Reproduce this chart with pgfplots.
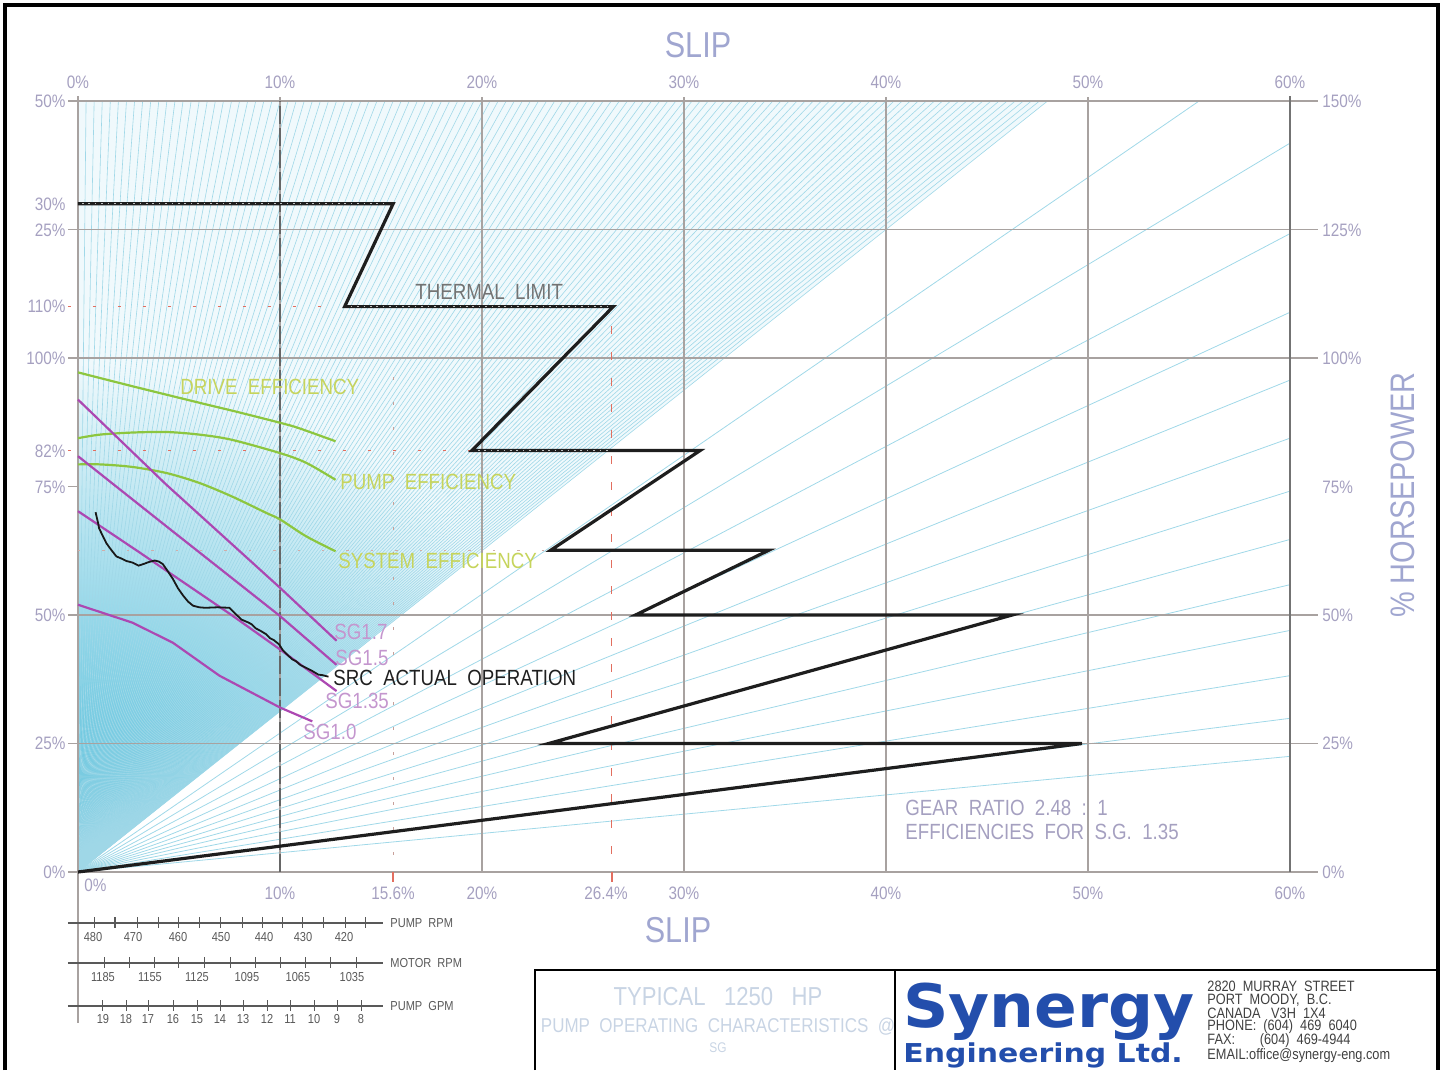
\documentclass[border=0pt]{standalone}
\usepackage{pgfplots}
\pgfplotsset{compat=1.18}
\usepackage{fontspec}
\setmainfont{Liberation Sans}[FakeStretch=0.85]
\newfontfamily\logofont{DejaVu Sans}[FakeStretch=1.05]
\newfontfamily\engfont{DejaVu Sans}[FakeStretch=1.15]
\definecolor{lab}{RGB}{165,160,192}
\definecolor{slipc}{RGB}{160,166,208}
\definecolor{gridc}{RGB}{168,162,160}
\definecolor{fanc}{RGB}{160,216,232}
\definecolor{cyanD}{RGB}{60,182,214}
\definecolor{densebase}{RGB}{240,249,252}
\definecolor{effg}{RGB}{140,198,63}
\definecolor{effl}{RGB}{198,212,92}
\definecolor{sgc}{RGB}{172,72,178}
\definecolor{sgl}{RGB}{196,150,206}
\definecolor{redd}{RGB}{226,110,95}
\definecolor{logob}{RGB}{35,78,172}
\definecolor{titlel}{RGB}{200,212,228}
\definecolor{thermal}{RGB}{30,30,30}
\begin{document}
\begin{tikzpicture}
\tikzset{px/.style={x=0.5pt,y=-0.5pt,shift={(-39pt,436pt)}},
  fanline/.style={fanc, line width=0.3pt},
  gridl/.style={gridc, line width=0.75pt},
  lbl/.style={font=\fontsize{9}{9}\selectfont, text=lab, inner sep=0pt},
  inl/.style={font=\fontsize{11}{11}\selectfont, inner sep=0pt, anchor=west},
  sc/.style={font=\fontsize{6.5}{6.5}\selectfont, text=black!65, inner sep=0pt}}
% ---------- background (pixel frame) ----------
\begin{scope}[px]
\useasboundingbox (0,0) rectangle (1445,1067);
\fill[densebase] (78,872) -- (78,101) -- (1048,101) -- cycle;
\begin{scope}
\clip (78,872) -- (78,101) -- (1048,101) -- cycle;
\shade[inner color=cyanD, outer color=densebase] (78,872) circle[radius=255pt];
\end{scope}
\end{scope}
% ---------- axis ----------
\begin{axis}[at={(0pt,0pt)}, anchor=south west, scale only axis,
  width=606pt, height=385.5pt, xmin=0, xmax=60, ymin=0, ymax=150,
  hide axis, clip=false]
% fan of lines from the origin
\pgfplotsinvokeforeach{1,...,120}{\draw[fanline] (axis cs:0,0) -- (axis cs:{#1*0.4},150);}
\pgfplotsinvokeforeach{141.8,124.2,108.9,95.7,84.4,74.1,64.7,55.9,47.0,38.2,29.9,22.5}{\draw[fanline, line width=0.4pt] (axis cs:0,0) -- (axis cs:60,#1);}
\draw[fanline, line width=0.4pt] (axis cs:0,0) -- (axis cs:55.5,150);
% grid
\pgfplotsinvokeforeach{150,125,100,50,25,0}{\draw[gridl] (axis cs:-0.5,#1) -- (axis cs:61.4,#1);}
\draw[gridl] (axis cs:-0.5,75) -- (axis cs:0,75);
\pgfplotsinvokeforeach{10,20,30,40,50}{\draw[gridl] (axis cs:#1,0) -- (axis cs:#1,150.8);}
\draw[gridl] (axis cs:0,-29.4) -- (axis cs:0,151);
\draw[gridl, draw=black!55] (axis cs:60,0) -- (axis cs:60,151);
\draw[black!60, line width=0.6pt, dash pattern=on 9pt off 2pt] (axis cs:10,0) -- (axis cs:10,150);
% reference dotted lines
\draw[redd, line width=0.7pt, dash pattern=on 1.5pt off 11pt] (axis cs:-0.5,110) -- (axis cs:26.4,110);
\draw[redd, line width=0.7pt, dash pattern=on 1.5pt off 11pt] (axis cs:-0.5,82) -- (axis cs:19.5,82);
\draw[redd!50!gray!60, line width=0.6pt, dash pattern=on 1.2pt off 11pt] (axis cs:0,62.6) -- (axis cs:23.4,62.6);
\draw[redd!50!gray!70, line width=0.6pt, dash pattern=on 1.5pt off 11pt] (axis cs:15.6,-1.5) -- (axis cs:15.6,97.7);
\draw[redd, line width=0.7pt, dash pattern=on 4pt off 9pt] (axis cs:26.4,-1.5) -- (axis cs:26.4,110);
% efficiency curves
\addplot[effg, line width=1.1pt, smooth] coordinates {(0,97.2) (2.7,94.5) (6,91.3) (8,89.4) (10,87.4) (10.9,86.4) (12.75,83.8)};
\addplot[effg, line width=1.1pt, smooth] coordinates {(0,84.4) (1.1,85.1) (2.7,85.5) (4.4,85.6) (6,85.1) (7.6,84.1) (10,81.5) (11.3,79.6) (12.75,76.3)};
\addplot[effg, line width=1.1pt, smooth] coordinates {(0,79.3) (1.1,79.3) (2.7,78.8) (4.4,77.6) (6,75.7) (7.6,73.1) (9.3,69.9) (10,68.6) (11.3,65.3) (12.75,62.4)};
% specific gravity curves
\addplot[sgc, line width=1.1pt] coordinates {(0,91.9) (4.36,75.4) (10,55.3) (12.8,45.0)};
\addplot[sgc, line width=1.1pt] coordinates {(0,80.9) (4.36,67.3) (10,49.8) (12.8,40.3)};
\addplot[sgc, line width=1.1pt] coordinates {(0,70.2) (3,62.3) (7.6,50) (10,43.3) (12.8,35.2)};
\addplot[sgc, line width=1.1pt] coordinates {(0,52.0) (2.7,48.5) (4.7,44.6) (7,38.2) (10,32.0) (11.6,29.3)};
% SRC actual operation
\addplot[black!90, line width=0.9pt] coordinates {(0.87,70) (1.0,67.8) (1.04,66.9) (1.2,65.6) (1.4,64) (1.6,62.9) (1.9,61.4) (2.2,60.9) (2.4,60.5) (2.7,60.2) (3.0,59.6) (3.3,60.0) (3.5,60.3) (3.8,60.6) (4.0,60.4) (4.2,59.9) (4.45,58.5) (4.7,57) (4.95,55.2) (5.2,53.8) (5.45,52.6) (5.7,51.8) (6.0,51.5) (6.3,51.4) (6.9,51.5) (7.5,51.4) (7.8,50.2) (8.1,49.1) (8.4,48.6) (8.6,48.2) (8.8,47.4) (9.0,47) (9.3,46.3) (9.5,45.5) (9.7,45.1) (9.95,44.3) (10.15,43.1) (10.3,42.5) (10.6,41.4) (10.8,41.0) (11.0,40.3) (11.3,39.7) (11.6,39.1) (11.9,38.4) (12.1,38.3) (12.4,38.0)};
% thermal limit
\addplot[thermal, line width=1.6pt] coordinates {(0,130) (15.6,130) (13.2,110) (26.5,110) (19.5,82) (30.8,82) (23.4,62.6) (34.2,62.6) (27.6,50) (46.25,50) (23.3,25) (49.7,25) (0,0)};
\draw[white!75!black, line width=0.45pt, dash pattern=on 0.8pt off 2.4pt] (axis cs:0.2,130) -- (axis cs:15.3,130);
\draw[white!75!black, line width=0.45pt, dash pattern=on 0.8pt off 2.4pt] (axis cs:13.5,110) -- (axis cs:26.2,110);
\draw[white!75!black, line width=0.45pt, dash pattern=on 0.8pt off 2.4pt] (axis cs:19.8,82) -- (axis cs:26.4,82);
\end{axis}
% ---------- text and drawing decorations ----------
\begin{scope}[px]
% frame
\draw[black, line width=1.6pt] (5,1070) -- (5,5) -- (1438,5) -- (1438,1070);
% titles
\node[font=\fontsize{18}{18}\selectfont, text=slipc, inner sep=0pt] at (698,45) {SLIP};
\node[font=\fontsize{18}{18}\selectfont, text=slipc, inner sep=0pt] at (678,930) {SLIP};
\node[font=\fontsize{17}{17}\selectfont, text=slipc, inner sep=0pt, rotate=90] at (1403,495) {\% HORSEPOWER};
% top tick labels
\foreach \x/\t in {78/0\%,280/10\%,482/20\%,684/30\%,886/40\%,1088/50\%,1290/60\%}{\node[lbl] at (\x,82) {\t};}
% bottom tick labels
\node[lbl, anchor=west] at (84,885) {0\%};
\foreach \x/\t in {280/10\%,393/15.6\%,482/20\%,606/26.4\%,684/30\%,886/40\%,1088/50\%,1290/60\%}{\node[lbl] at (\x,893) {\t};}
% left labels
\foreach \y/\t in {101/50\%,204/30\%,230/25\%,306/110\%,358/100\%,451/82\%,487/75\%,615/50\%,743/25\%,872/0\%}{\node[lbl, anchor=east] at (66,\y) {\t};}
% right labels
\foreach \y/\t in {101/150\%,230/125\%,358/100\%,487/75\%,615/50\%,743/25\%,872/0\%}{\node[lbl, anchor=west] at (1322,\y) {\t};}
% red tick marks on the bottom axis
\draw[redd, line width=0.7pt] (393,872) -- (393,882);
\draw[redd, line width=0.7pt] (612,872) -- (612,882);
% in-plot labels
\node[inl, text=black!55] at (415,292) {THERMAL\ \ LIMIT};
\node[inl, text=effl] at (180,387) {DRIVE\ \ EFFICIENCY};
\node[inl, text=effl] at (340,482) {PUMP\ \ EFFICIENCY};
\node[inl, text=effl] at (338,561) {SYSTEM\ \ EFFICIENCY};
\node[inl, text=sgl] at (334,632) {SG1.7};
\node[inl, text=sgl] at (335,658) {SG1.5};
\node[inl, text=black!88] at (333,678) {SRC\ \ ACTUAL\ \ OPERATION};
\node[inl, text=sgl] at (325,701) {SG1.35};
\node[inl, text=sgl] at (303,732) {SG1.0};
\node[inl, text=lab] at (905,808) {GEAR\ \ RATIO\ \ 2.48\ \ :\ \ 1};
\node[inl, text=lab] at (905,832) {EFFICIENCIES\ \ FOR\ \ S.G.\ \ 1.35};
% bottom-left scales
\draw[black!65, line width=0.6pt] (68,923) -- (383,923);
\foreach \x in {95,115,137,158,178,199,220,242,262,282,302,323,345,365}{\draw[black!65, line width=0.5pt] (\x,917) -- (\x,928);}
\foreach \x/\t in {93/480,133/470,178/460,221/450,264/440,303/430,344/420}{\node[sc] at (\x,937) {\t};}
\node[sc, anchor=west] at (390,923) {PUMP\ \ RPM};
\draw[black!65, line width=0.6pt] (68,963) -- (383,963);
\foreach \x in {105,129,154,178,204,230,255,280,305,330,356}{\draw[black!65, line width=0.5pt] (\x,957) -- (\x,968);}
\foreach \x/\t in {103/1185,150/1155,197/1125,247/1095,298/1065,352/1035}{\node[sc] at (\x,977) {\t};}
\node[sc, anchor=west] at (390,963) {MOTOR\ \ RPM};
\draw[black!65, line width=0.6pt] (68,1006) -- (383,1006);
\foreach \x in {103,126,148,173,197,220,243,267,290,314,337,361}{\draw[black!65, line width=0.5pt] (\x,1000) -- (\x,1011);}
\foreach \x/\t in {103/19,126/18,148/17,173/16,197/15,220/14,243/13,267/12,290/11,314/10,337/9,361/8}{\node[sc] at (\x,1019) {\t};}
\node[sc, anchor=west] at (390,1006) {PUMP\ \ GPM};
% title block
\draw[black, line width=1.2pt] (535,1070) -- (535,970) -- (1438,970);
\draw[black, line width=1.2pt] (895,970) -- (895,1070);
\node[font=\fontsize{13}{13}\selectfont, text=titlel, inner sep=0pt] at (718,997) {TYPICAL\ \ \ 1250\ \ \ HP};
\node[font=\fontsize{10}{10}\selectfont, text=titlel, inner sep=0pt] at (718,1027) {PUMP\ \ OPERATING\ \ CHARACTERISTICS\ \ @};
\node[font=\fontsize{7}{7}\selectfont, text=titlel, inner sep=0pt] at (718,1048) {SG};
\node[font=\logofont\bfseries\fontsize{30}{30}\selectfont, text=logob, inner sep=0pt, anchor=base west] at (903,1027) {Synergy};
\node[font=\engfont\bfseries\fontsize{13}{13}\selectfont, text=logob, inner sep=0pt, anchor=base west] at (903,1062) {Engineering Ltd.};
\foreach \y/\t in {986/2820\ \ MURRAY\ \ STREET,1000/{PORT\ \ MOODY,\ \ B.C.},1013/CANADA\ \ \ V3H\ \ 1X4,1027/PHONE:\ \ (604)\ \ 469\ \ 6040,1041/FAX:\ \ \ \ \ \ \ (604)\ \ 469-4944,1056/EMAIL:office@synergy-eng.com}{\node[font=\fontsize{7.5}{7.5}\selectfont, text=black!75, inner sep=0pt, anchor=west] at (1207,\y) {\t};}
\end{scope}
\end{tikzpicture}
\end{document}
